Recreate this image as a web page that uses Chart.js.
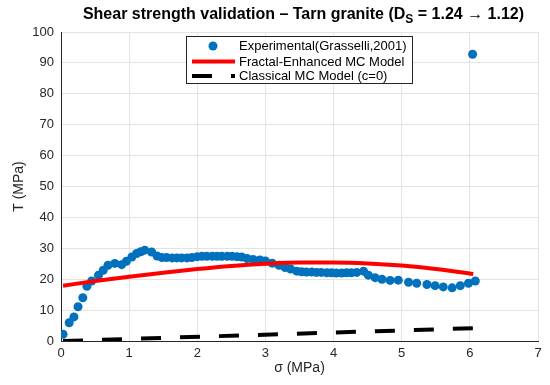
<!DOCTYPE html>
<html>
<head>
<meta charset="utf-8">
<title>Shear strength validation</title>
<script src="https://cdn.jsdelivr.net/npm/chart.js@4.4.1/dist/chart.umd.min.js"></script>
<style>
  html, body { margin: 0; padding: 0; background: #fff; }
  #wrap { width: 550px; height: 385px; }
</style>
</head>
<body>
<div id="wrap"><canvas id="shearChart" width="550" height="385"></canvas></div>
<script>
// Dados experimentais (Grasselli, 2001)
const expSigma = [0.03, 0.12, 0.19, 0.25, 0.32, 0.38, 0.45, 0.55, 0.62, 0.69, 0.79, 0.89, 0.96, 1.04, 1.11, 1.17, 1.23, 1.33, 1.41,
    1.48, 1.55, 1.63, 1.70, 1.77, 1.85, 1.92, 2.00, 2.07, 2.14, 2.22, 2.29, 2.36, 2.44, 2.51, 2.58, 2.65, 2.73, 2.82, 2.92,
    3.00, 3.10, 3.20, 3.29, 3.37, 3.46, 3.53, 3.60, 3.68, 3.75, 3.82, 3.90, 3.97, 4.04, 4.12, 4.19, 4.26, 4.34, 4.44,
    4.51, 4.61, 4.71, 4.83, 4.95, 5.10, 5.22, 5.37, 5.49, 5.61, 5.74, 5.86, 5.98, 6.08, 6.04];
const expTau = [2.2, 5.9, 7.8, 11.1, 14.0, 17.7, 19.4, 21.3, 22.9, 24.5, 25.1, 24.7, 25.8, 27.2, 28.3, 28.9, 29.4, 28.8, 27.5,
    27.0, 27.0, 26.9, 26.9, 26.9, 26.9, 27.0, 27.3, 27.4, 27.4, 27.4, 27.4, 27.4, 27.4, 27.4, 27.3, 27.2, 26.7, 26.4, 26.2,
    25.9, 25.2, 24.5, 23.8, 23.3, 22.6, 22.4, 22.3, 22.3, 22.2, 22.2, 22.1, 22.1, 22.0, 22.0, 22.1, 22.1, 22.2, 22.6,
    21.3, 20.5, 20.0, 19.6, 19.7, 19.0, 18.7, 18.3, 17.9, 17.5, 17.2, 17.9, 18.7, 19.4, 92.8];

// Modelo MC com fractal
const fractalSigma = [0.03, 0.5, 1.0, 1.5, 2.0, 2.5, 3.0, 3.5, 4.0, 4.5, 5.0, 5.5, 6.05];
const fractalTau = [17.9, 19.4, 20.8, 22.1, 23.3, 24.3, 25.0, 25.4, 25.4, 25.1, 24.4, 23.3, 21.7];

// Modelo MC classico (c=0)
const classicalSigma = [0.03, 6.05];
const classicalTau = [0.0, 4.15];

const xTicks = [0, 1, 2, 3, 4, 5, 6, 7];
const yTicks = [0, 10, 20, 30, 40, 50, 60, 70, 80, 90, 100];

const labels = ['Experimental(Grasselli,2001)', 'Fractal-Enhanced MC Model', 'Classical MC Model (c=0)'];

const FONT = "'Liberation Sans', Arial, Helvetica, sans-serif";

function toPoints(xs, ys) {
    return xs.map((x, i) => ({ x: x, y: ys[i] }));
}

// Titulo com subscrito (D_S)
const titlePlugin = {
    id: 'subTitle',
    afterDraw(chart) {
        const ctx = chart.ctx;
        const area = chart.chartArea;
        const parts = [
            { t: 'Shear strength validation \u2013 Tarn granite (D', sub: false },
            { t: 'S', sub: true },
            { t: ' = 1.24 \u2192 1.12)', sub: false }
        ];
        ctx.save();
        ctx.fillStyle = '#000';
        ctx.textBaseline = 'alphabetic';
        const big = 'bold 16px ' + FONT;
        const small = 'bold 12px ' + FONT;
        let total = 0;
        parts.forEach(p => {
            ctx.font = p.sub ? small : big;
            p.w = ctx.measureText(p.t).width;
            total += p.w;
        });
        let x = (area.left + area.right) / 2 + 4 - total / 2;
        const base = 19;
        parts.forEach(p => {
            ctx.font = p.sub ? small : big;
            ctx.fillText(p.t, x, p.sub ? base + 4 : base);
            x += p.w;
        });
        ctx.restore();
    }
};

// Legenda dentro do grafico
const legendPlugin = {
    id: 'boxLegend',
    afterDraw(chart) {
        const ctx = chart.ctx;
        const box = { x: 186.5, y: 36.5, w: 226, h: 47 };
        ctx.save();
        ctx.fillStyle = '#fff';
        ctx.fillRect(box.x, box.y, box.w, box.h);
        ctx.strokeStyle = '#262626';
        ctx.lineWidth = 1;
        ctx.strokeRect(box.x, box.y, box.w, box.h);

        const rows = [46, 61.5, 76];
        chart.data.datasets.forEach((ds, i) => {
            const y = rows[i];
            if (i === 0) {
                ctx.fillStyle = ds.backgroundColor;
                ctx.beginPath();
                ctx.arc(213, y, ds.pointRadius, 0, Math.PI * 2);
                ctx.fill();
            } else {
                ctx.strokeStyle = ds.borderColor;
                ctx.lineWidth = ds.borderWidth;
                ctx.setLineDash(ds.borderDash || []);
                ctx.beginPath();
                ctx.moveTo(192, y);
                ctx.lineTo(235, y);
                ctx.stroke();
                ctx.setLineDash([]);
            }
            ctx.fillStyle = '#000';
            ctx.font = '13px ' + FONT;
            ctx.textBaseline = 'middle';
            ctx.fillText(ds.label, 239, y + 0.5);
        });
        ctx.restore();
    }
};

const ctx = document.getElementById('shearChart').getContext('2d');

new Chart(ctx, {
    type: 'scatter',
    data: {
        datasets: [
            {
                label: labels[0],
                data: toPoints(expSigma, expTau),
                showLine: false,
                pointRadius: 4.5,
                pointBorderWidth: 0,
                backgroundColor: '#0072BD',
                borderColor: '#0072BD',
                order: 3
            },
            {
                label: labels[1],
                data: toPoints(fractalSigma, fractalTau),
                showLine: true,
                pointRadius: 0,
                borderColor: '#FF0000',
                borderWidth: 4,
                cubicInterpolationMode: 'monotone',
                order: 2
            },
            {
                label: labels[2],
                data: toPoints(classicalSigma, classicalTau),
                showLine: true,
                pointRadius: 0,
                borderColor: '#000000',
                borderWidth: 4,
                borderDash: [20, 19],
                order: 1
            }
        ]
    },
    options: {
        responsive: false,
        animation: false,
        devicePixelRatio: 1,
        layout: { padding: { top: 32, right: 12, left: 0, bottom: 0 } },
        plugins: {
            legend: { display: false },
            title: { display: false },
            tooltip: { enabled: false }
        },
        scales: {
            x: {
                type: 'linear',
                min: xTicks[0],
                max: xTicks[xTicks.length - 1],
                afterBuildTicks: scale => { scale.ticks = xTicks.map(v => ({ value: v })); },
                afterFit: scale => { scale.height = 44; },
                grid: { color: '#e3e3e3', drawTicks: false },
                border: { color: '#262626', width: 1 },
                ticks: { color: '#262626', font: { family: FONT, size: 13 }, padding: 5 },
                title: {
                    display: true,
                    text: '\u03c3 (MPa)',
                    color: '#262626',
                    font: { family: FONT, size: 14 },
                    padding: { top: 0, bottom: 8 }
                }
            },
            y: {
                type: 'linear',
                min: yTicks[0],
                max: yTicks[yTicks.length - 1],
                afterBuildTicks: scale => { scale.ticks = yTicks.map(v => ({ value: v })); },
                afterFit: scale => { scale.width = 61; },
                grid: { color: '#e3e3e3', drawTicks: false },
                border: { color: '#262626', width: 1 },
                ticks: { color: '#262626', font: { family: FONT, size: 13 }, padding: 7 },
                title: {
                    display: true,
                    text: 'T (MPa)',
                    color: '#262626',
                    font: { family: FONT, size: 14 },
                    padding: { top: 11, bottom: 0 }
                }
            }
        }
    },
    plugins: [titlePlugin, legendPlugin]
});
</script>
</body>
</html>
